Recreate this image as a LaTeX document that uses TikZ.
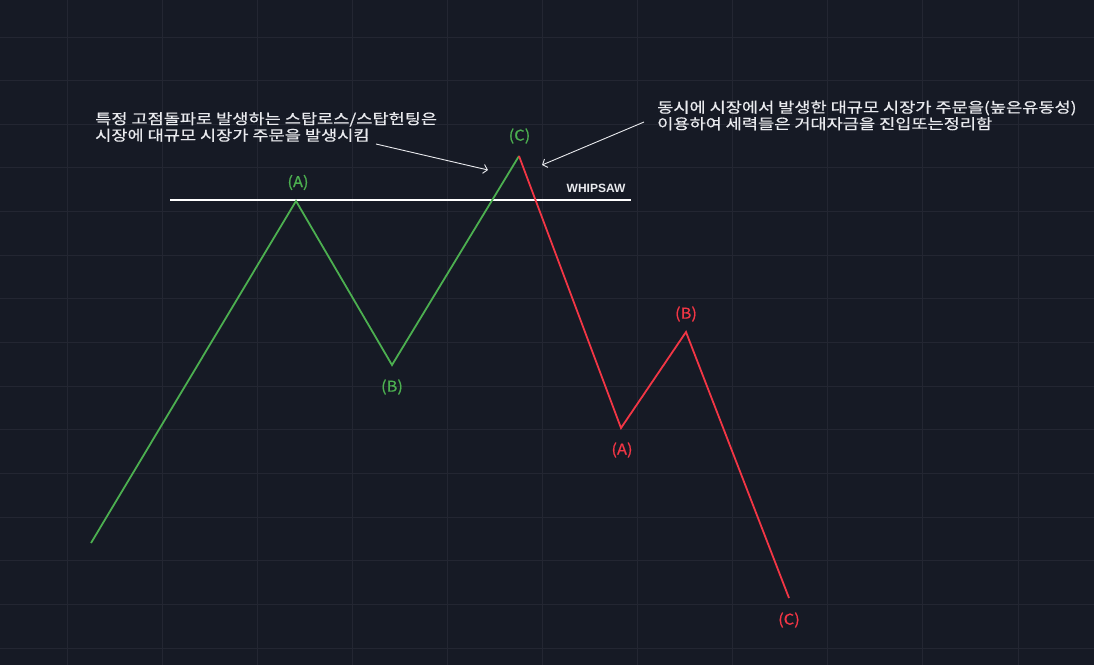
\documentclass[tikz,border=0pt]{standalone}
\usepackage{fontspec}
\usetikzlibrary{arrows.meta}
\newfontfamily\kr[FakeStretch=1.22,FakeBold=0.6]{Noto Sans CJK KR}
\newfontfamily\krlbl[FakeStretch=1.1,FakeBold=0.6]{Noto Sans CJK KR}
\newfontfamily\whipfont{Liberation Sans}
\definecolor{bg}{HTML}{161A25}
\definecolor{gridc}{HTML}{232632}
\definecolor{txt}{HTML}{E9EAEE}
\definecolor{upc}{HTML}{4CAF50}
\definecolor{downc}{HTML}{F23645}
\tikzset{
  gridline/.style={draw=gridc, line width=1pt},
  upleg/.style={draw=upc, line width=1.8pt, line join=miter},
  downleg/.style={draw=downc, line width=1.8pt, line join=miter},
  wavelbl/.style={inner sep=0pt, font=\krlbl\fontsize{15}{16}\selectfont},
  note/.style={inner sep=0pt, anchor=north west, align=left, text=txt, font=\kr\fontsize{14.4}{16.5}\selectfont},
  pointer/.style={draw=txt, line width=0.9pt, -{Straight Barb[length=4pt,width=9pt]}},
  level/.style={draw=white, line width=2pt}
}
\begin{document}
\begin{tikzpicture}[x=1pt,y=-1pt]
\useasboundingbox (0,0) rectangle (1094,665);
\fill[bg] (0,0) rectangle (1094,665);
% grid
\foreach \k in {0,...,10} { \draw[gridline] ({67+95.1*\k},0) -- ({67+95.1*\k},665); }
\foreach \k in {0,...,14} { \draw[gridline] (0,{37+43.65*\k}) -- (1094,{37+43.65*\k}); }
% level line
\coordinate (l1) at (170,200);
\coordinate (l2) at (631,200);
\draw[level] (l1) -- (l2);
\node[inner sep=0pt, text=txt, font=\whipfont\bfseries\fontsize{12}{14}\selectfont] (whip) at (596,188) {WHIPSAW};
% wave points
\coordinate (g0) at (91,543);
\coordinate (gA) at (296,201);
\coordinate (gB) at (392,365);
\coordinate (gC) at (519,156);
\coordinate (rA) at (621,428);
\coordinate (rB) at (686,332);
\coordinate (rC) at (789,598);
\draw[upleg] (g0) -- (gA) -- (gB) -- (gC);
\draw[downleg] (gC) -- (rA) -- (rB) -- (rC);
% labels
\node[wavelbl, text=upc] (lgA) at (298,182.5) {(A)};
\node[wavelbl, text=upc] (lgB) at (392,387) {(B)};
\node[wavelbl, text=upc] (lgC) at (519.5,136) {(C)};
\node[wavelbl, text=downc] (lrA) at (622,450) {(A)};
\node[wavelbl, text=downc] (lrB) at (686,314) {(B)};
\node[wavelbl, text=downc] (lrC) at (789,620) {(C)};
% notes
\node[note] (n1) at (95,112) {특정 고점돌파로 발생하는 스탑로스/스탑헌팅은\\시장에 대규모 시장가 주문을 발생시킴};
\node[note] (n2) at (657,100.5) {동시에 시장에서 발생한 대규모 시장가 주문을(높은유동성)\\이용하여 세력들은 거대자금을 진입또는정리함};
\coordinate (a1s) at (376,144);
\coordinate (a1e) at (488,170);
\coordinate (a2s) at (644,122);
\coordinate (a2e) at (542,165);
\draw[pointer] (a1s) -- (a1e);
\draw[pointer] (a2s) -- (a2e);
\end{tikzpicture}
\end{document}
